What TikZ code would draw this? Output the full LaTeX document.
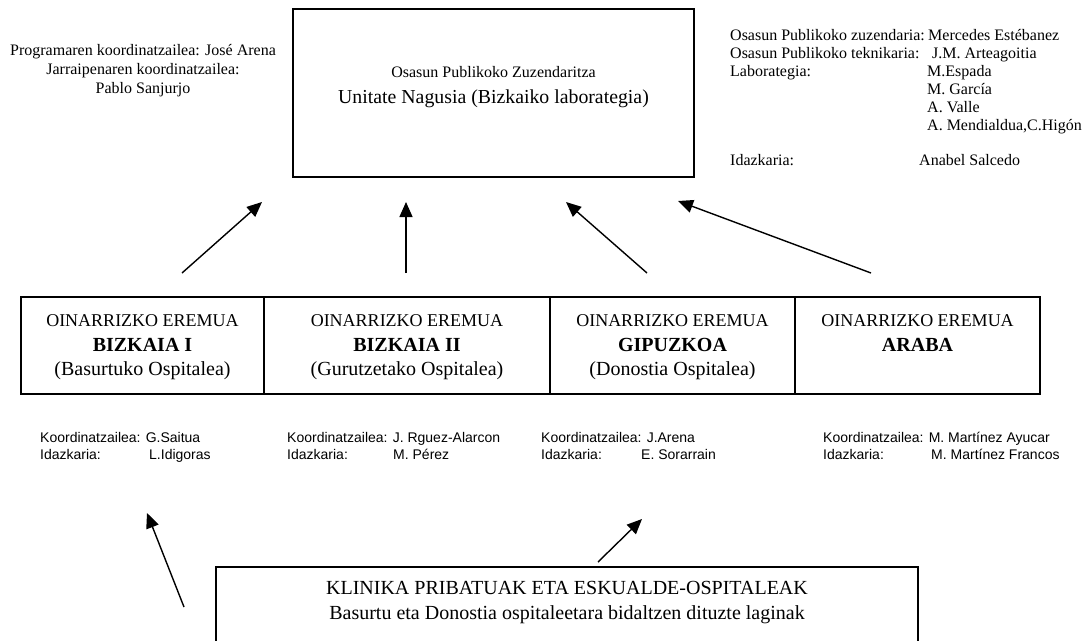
\documentclass[tikz,border=0pt]{standalone}
\usepackage{fontspec}
\setmainfont{Liberation Serif}
\newfontfamily\arialf{Liberation Sans}
\usetikzlibrary{arrows.meta}
\begin{document}
\begin{tikzpicture}[x=1pt,y=-1pt,
  boxstyle/.style={draw, line width=1.6pt, inner sep=0pt, outer sep=0pt, anchor=north west},
  arr/.style={line width=1.4pt, -{Triangle[length=15pt,width=13pt]}},
  tA/.style={font=\fontsize{16}{19}\selectfont, inner sep=0pt, anchor=base},
  tC/.style={font=\fontsize{18}{21}\selectfont, inner sep=0pt, anchor=base},
  tB/.style={font=\fontsize{20}{23}\selectfont, inner sep=0pt, anchor=base},
  tBb/.style={font=\bfseries\fontsize{20}{23}\selectfont, inner sep=0pt, anchor=base},
  rl/.style={font=\fontsize{16}{19}\selectfont, inner sep=0pt, anchor=base west},
  sm/.style={font=\arialf\fontsize{14}{16}\selectfont, inner sep=0pt, anchor=base west}]
\clip (0,0) rectangle (1086,640);
\fill[white] (0,0) rectangle (1086,640);

% top box
\node[boxstyle, minimum width=401pt, minimum height=168pt] (main) at (293,9) {};
\node[tA] (mainA) at (493.5,77) {Osasun Publikoko Zuzendaritza};
\node[tB, font=\fontsize{19.8}{23}\selectfont] (mainB) at (493.5,103) {Unitate Nagusia (Bizkaiko laborategia)};

% left text
\node[tA] (prog1) at (143,55) {Programaren koordinatzailea: José Arena};
\node[tA] (prog2) at (143,74) {Jarraipenaren koordinatzailea:};
\node[tA] (prog3) at (143,93) {Pablo Sanjurjo};

% right text
\node[rl] (r1) at (730,40) {Osasun Publikoko zuzendaria:};
\node[rl] (r1v) at (928,40) {Mercedes Estébanez};
\node[rl] (r2) at (730,58) {Osasun Publikoko teknikaria:};
\node[rl] (r2v) at (932,58) {J.M. Arteagoitia};
\node[rl] (r3) at (730,76) {Laborategia:};
\node[rl] (r3v) at (927,76) {M.Espada};
\node[rl] (r4v) at (927,94) {M. García};
\node[rl] (r5v) at (927,112) {A. Valle};
\node[rl] (r6v) at (927,130) {A. Mendialdua,C.Higón};
\node[rl] (r7) at (730,165) {Idazkaria:};
\node[rl] (r7v) at (919,165) {Anabel Salcedo};

% middle boxes
\node[boxstyle, minimum width=243pt, minimum height=97pt] (b1) at (21,297) {};
\node[boxstyle, minimum width=286pt, minimum height=97pt] (b2) at (264,297) {};
\node[boxstyle, minimum width=245pt, minimum height=97pt] (b3) at (550,297) {};
\node[boxstyle, minimum width=245pt, minimum height=97pt] (b4) at (795,297) {};

\node[tC] (b1a) at (142.5,326) {OINARRIZKO EREMUA};
\node[tBb] (b1b) at (142.5,351) {BIZKAIA I};
\node[tB] (b1c) at (142.5,375) {(Basurtuko Ospitalea)};
\node[tC] (b2a) at (407,326) {OINARRIZKO EREMUA};
\node[tBb] (b2b) at (407,351) {BIZKAIA II};
\node[tB] (b2c) at (407,375) {(Gurutzetako Ospitalea)};
\node[tC] (b3a) at (672.5,326) {OINARRIZKO EREMUA};
\node[tBb] (b3b) at (672.5,351) {GIPUZKOA};
\node[tB] (b3c) at (672.5,375) {(Donostia Ospitalea)};
\node[tC] (b4a) at (917.5,326) {OINARRIZKO EREMUA};
\node[tBb] (b4b) at (917.5,351) {ARABA};

% upper arrows
\coordinate (u1s) at (182,273); \coordinate (u1e) at (262,202);
\coordinate (u2s) at (406,273); \coordinate (u2e) at (406,202);
\coordinate (u3s) at (647,273); \coordinate (u3e) at (566,202);
\coordinate (u4s) at (871,273); \coordinate (u4e) at (678,201);
\draw[arr] (u1s) -- (u1e);
\draw[arr] (u2s) -- (u2e);
\draw[arr] (u3s) -- (u3e);
\draw[arr] (u4s) -- (u4e);

% coordinators
\node[sm] (k1) at (40,442) {Koordinatzailea: G.Saitua};
\node[sm] (i1) at (40,459) {Idazkaria:};
\node[sm] (i1v) at (149,459) {L.Idigoras};
\node[sm] (k2) at (287,442) {Koordinatzailea: J. Rguez-Alarcon};
\node[sm] (i2) at (287,459) {Idazkaria:};
\node[sm] (i2v) at (393,459) {M. Pérez};
\node[sm] (k3) at (541,442) {Koordinatzailea: J.Arena};
\node[sm] (i3) at (541,459) {Idazkaria:};
\node[sm] (i3v) at (641,459) {E. Sorarrain};
\node[sm] (k4) at (823,442) {Koordinatzailea: M. Martínez Ayucar};
\node[sm] (i4) at (823,459) {Idazkaria:};
\node[sm] (i4v) at (931,459) {M. Martínez Francos};

% bottom box
\node[boxstyle, minimum width=702pt, minimum height=95pt] (klin) at (216,567) {};
\node[tB] (klinA) at (567,594) {KLINIKA PRIBATUAK ETA ESKUALDE-OSPITALEAK};
\node[tB] (klinB) at (567,619) {Basurtu eta Donostia ospitaleetara bidaltzen dituzte laginak};

% lower arrows
\coordinate (l1s) at (184,607); \coordinate (l1e) at (147,513);
\coordinate (l2s) at (598,562); \coordinate (l2e) at (642,519);
\draw[arr] (l1s) -- (l1e);
\draw[arr] (l2s) -- (l2e);
\end{tikzpicture}
\end{document}
